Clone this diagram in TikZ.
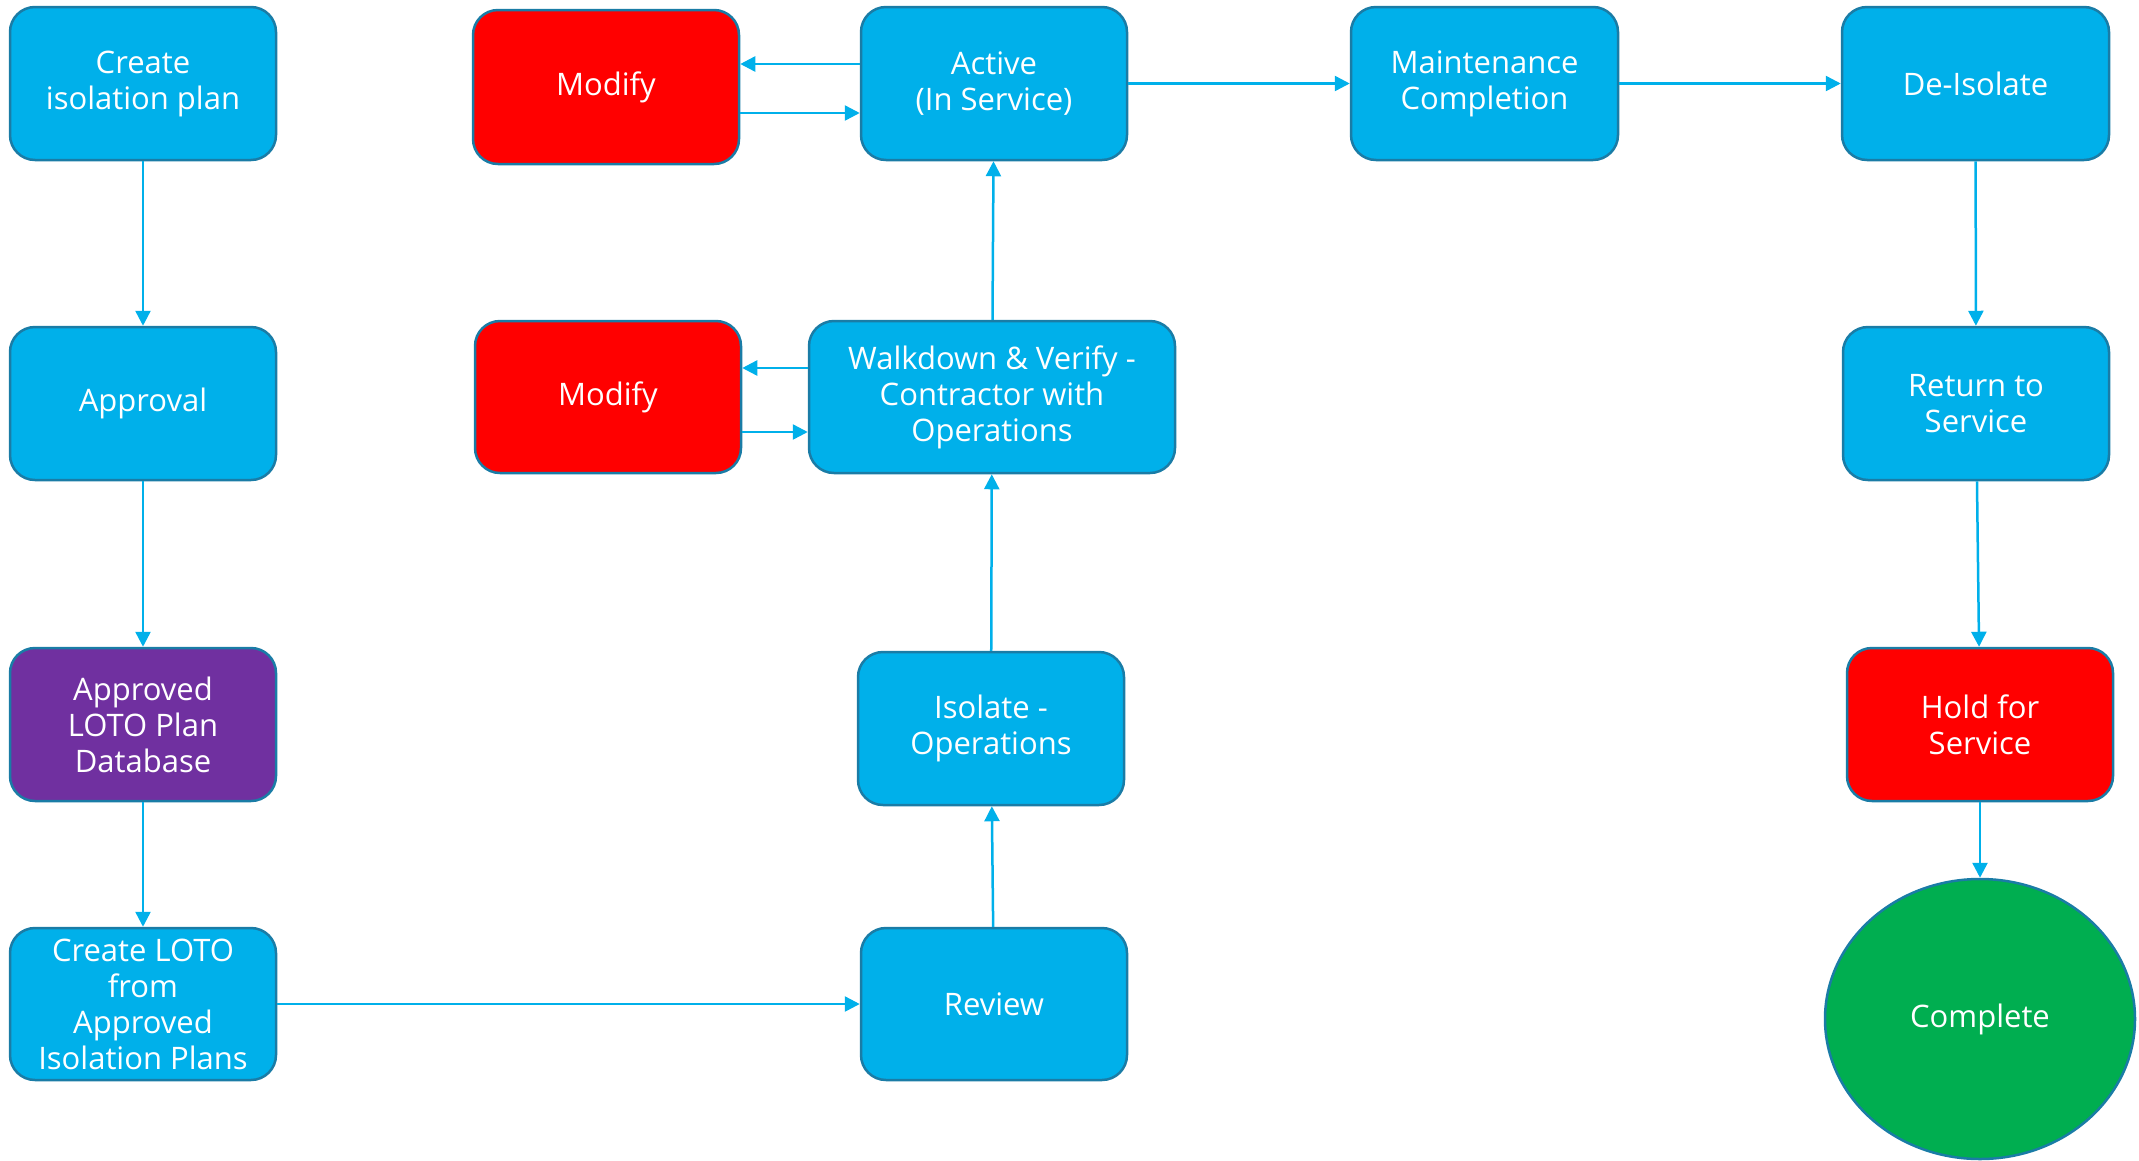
\documentclass[tikz,border=0pt]{standalone}
\usepackage{fontspec}
\setmainfont{Open Sans}
\usetikzlibrary{arrows.meta,shapes.geometric}
\definecolor{bfill}{HTML}{00B0EA}
\definecolor{bedge}{HTML}{1A7CA6}
\definecolor{rfill}{HTML}{FF0000}
\definecolor{pfill}{HTML}{7030A0}
\definecolor{gfill}{HTML}{00AE50}
\definecolor{arrc}{HTML}{00B0EA}
\tikzset{
  box/.style={draw=bedge, line width=2.5pt, rounded corners=25pt, fill=bfill,
    text=white, align=center, inner sep=0pt,
    font=\fontsize{31}{36}\selectfont,
    minimum width=266pt, minimum height=153pt},
  redbox/.style={box, fill=rfill},
  purbox/.style={box, fill=pfill},
  arr/.style={draw=arrc, line width=2.5pt, -{Triangle[length=15pt,width=15pt]}},
}
\begin{document}
\begin{tikzpicture}[x=1pt,y=-1pt]
\useasboundingbox (0,0) rectangle (2139,1160);
\node[box] (cip) at (143,83.5) {Create\\isolation plan};
\node[box] (appr) at (143,403.5) {Approval};
\node[purbox] (db) at (143,724.5) {Approved\\LOTO Plan\\Database};
\node[box, minimum height=152pt] (cloto) at (143,1004) {Create LOTO\\from\\Approved\\Isolation Plans};
\node[redbox, minimum height=154pt] (mod1) at (606,87) {Modify};
\node[box] (act) at (994,83.5) {Active\\(In Service)};
\node[box, minimum width=267pt] (maint) at (1484.5,83.5) {Maintenance\\Completion};
\node[box, minimum width=267pt] (deiso) at (1975.5,83.5) {De-Isolate};
\node[redbox, minimum height=152pt] (mod2) at (608,397) {Modify};
\node[box, minimum width=366pt, minimum height=152pt] (walk) at (992,397) {Walkdown \& Verify -\\Contractor with\\Operations};
\node[box] (ret) at (1976,403.5) {Return to\\Service};
\node[box] (iso) at (991,728.5) {Isolate -\\Operations};
\node[redbox] (hold) at (1980,724.5) {Hold for\\Service};
\node[box, minimum height=152pt] (rev) at (994,1004) {Review};
\node[ellipse, draw=bedge, line width=2.5pt, fill=gfill, text=white,
  font=\fontsize{31}{36}\selectfont, inner sep=0pt,
  minimum width=310pt, minimum height=280pt] (comp) at (1980,1019) {Complete};

\draw[arr] (cip) -- (appr);
\draw[arr] (appr) -- (db);
\draw[arr] (db) -- (cloto);
\draw[arr] (cloto) -- (rev);
\draw[arr] (rev) -- (iso);
\draw[arr] (iso) -- (walk);
\draw[arr] (walk) -- (act);
\coordinate (a1) at ([yshift=19.5pt]act.west);
\draw[arr] (a1) -- (a1 -| mod1.east);
\coordinate (a2) at ([yshift=-26pt]mod1.east);
\draw[arr] (a2) -- (a2 -| act.west);
\coordinate (a3) at ([yshift=29pt]walk.west);
\draw[arr] (a3) -- (a3 -| mod2.east);
\coordinate (a4) at ([yshift=-35pt]mod2.east);
\draw[arr] (a4) -- (a4 -| walk.west);
\draw[arr] (act) -- (maint);
\draw[arr] (maint) -- (deiso);
\draw[arr] (deiso) -- (ret);
\draw[arr] (ret) -- (hold);
\draw[arr] (hold) -- (comp);
\end{tikzpicture}
\end{document}
